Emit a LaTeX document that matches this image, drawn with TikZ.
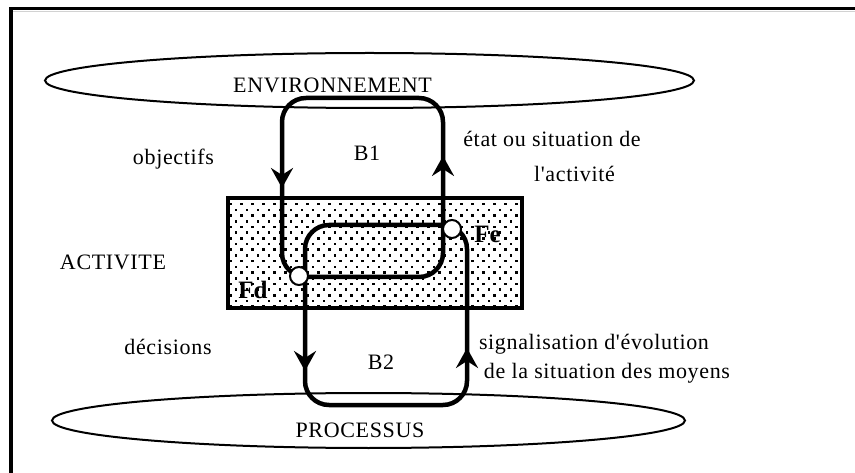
\documentclass[tikz,border=0pt]{standalone}
\usepackage{fontspec}
\setmainfont{Liberation Serif}[LetterSpace=3, Ligatures=TeXOff]
\newfontfamily\boldlabelfont{Liberation Serif}[LetterSpace=0, Ligatures=TeXOff]
\usetikzlibrary{arrows.meta,shapes.geometric}
\begin{document}
\begin{tikzpicture}[x=1pt,y=-1pt,
  loopline/.style={line width=4.5pt, rounded corners=24pt},
  flow/.style={line width=4.5pt, -{Stealth[length=20pt,width=22pt,inset=7pt]}},
  lbl/.style={font=\fontsize{22}{26}\selectfont, inner sep=0pt, anchor=base},
  blbl/.style={font=\boldlabelfont\fontsize{25}{28}\selectfont\bfseries, inner sep=0pt, anchor=base},
  junction/.style={circle, draw, fill=white, line width=2pt, minimum size=18pt, inner sep=0pt},
  zone/.style={ellipse, draw, line width=2pt, inner sep=0pt},
]
\useasboundingbox (0,0) rectangle (855,473);
% frame
\draw[gray!35, line width=1pt] (13,11.5) -- (855,11.5);
\draw[line width=3.3pt] (11,473) -- (11,8.5) -- (855,8.5);
% ellipses
\node[zone, minimum width=649pt, minimum height=55pt] (env) at (369.5,80.5) {};
\node[zone, minimum width=633pt, minimum height=55pt] (proc) at (368.5,420.5) {};
% activity box with dots
\begin{scope}
  \clip (228,198) rectangle (522,308);
  \foreach \yy in {0,...,19} {
    \pgfmathsetmacro{\py}{198.5+5.7*\yy}
    \pgfmathsetmacro{\off}{224.8+5.5*mod(\yy,2)}
    \foreach \xx in {0,...,28} {
      \pgfmathsetmacro{\px}{\off+11*\xx}
      \fill (\px-1.3,\py-1.3) rectangle +(2.6,2.6);
    }
  }
\end{scope}
\node[draw, line width=3.2pt, minimum width=294pt, minimum height=110pt, inner sep=0pt] (act) at (375,253) {};
% loops
\coordinate (b1tl) at (282,98);
\coordinate (b1tr) at (443,98);
\coordinate (b1bl) at (282,277);
\coordinate (b1br) at (443,277);
\coordinate (b2tl) at (305,225);
\coordinate (b2tr) at (467,225);
\coordinate (b2bl) at (305,405);
\coordinate (b2br) at (467,405);
\draw[loopline] (362,98) -- (b1tl) -- (b1bl) -- (b1br) -- (b1tr) -- cycle;
\draw[loopline] (386,405) -- (b2bl) -- (b2tl) -- (b2tr) -- (b2br) -- cycle;
% arrows
\coordinate (a1s) at (282,150); \coordinate (a1e) at (282,188);
\coordinate (a2s) at (443,195); \coordinate (a2e) at (443,156);
\coordinate (a3s) at (305,330); \coordinate (a3e) at (305,371);
\coordinate (a4s) at (467,385); \coordinate (a4e) at (467,348);
\draw[flow] (a1s) -- (a1e);
\draw[flow] (a2s) -- (a2e);
\draw[flow] (a3s) -- (a3e);
\draw[flow] (a4s) -- (a4e);
% junctions
\node[junction] (fd) at (299,276) {};
\node[junction] (fe) at (452,229) {};
% labels
\node[lbl] (tenv) at (332.5,93) {ENVIRONNEMENT};
\node[lbl] (tb1) at (367,161) {B1};
\node[lbl] (tobj) at (173.5,165) {objectifs};
\node[lbl] (tetat) at (552,147) {état ou situation de};
\node[lbl] (tact2) at (574.5,182) {l'activité};
\node[lbl] (tact) at (113,270) {ACTIVITE};
\node[blbl] (tfd) at (253,299) {Fd};
\node[blbl] (tfe) at (487.5,243) {Fe};
\node[lbl] (tdec) at (168,355) {décisions};
\node[lbl] (tb2) at (381,370) {B2};
\node[lbl] (tsig) at (594,350) {signalisation d'évolution};
\node[lbl] (tsit) at (607,378) {de la situation des moyens};
\node[lbl] (tproc) at (360,437) {PROCESSUS};
\end{tikzpicture}
\end{document}
